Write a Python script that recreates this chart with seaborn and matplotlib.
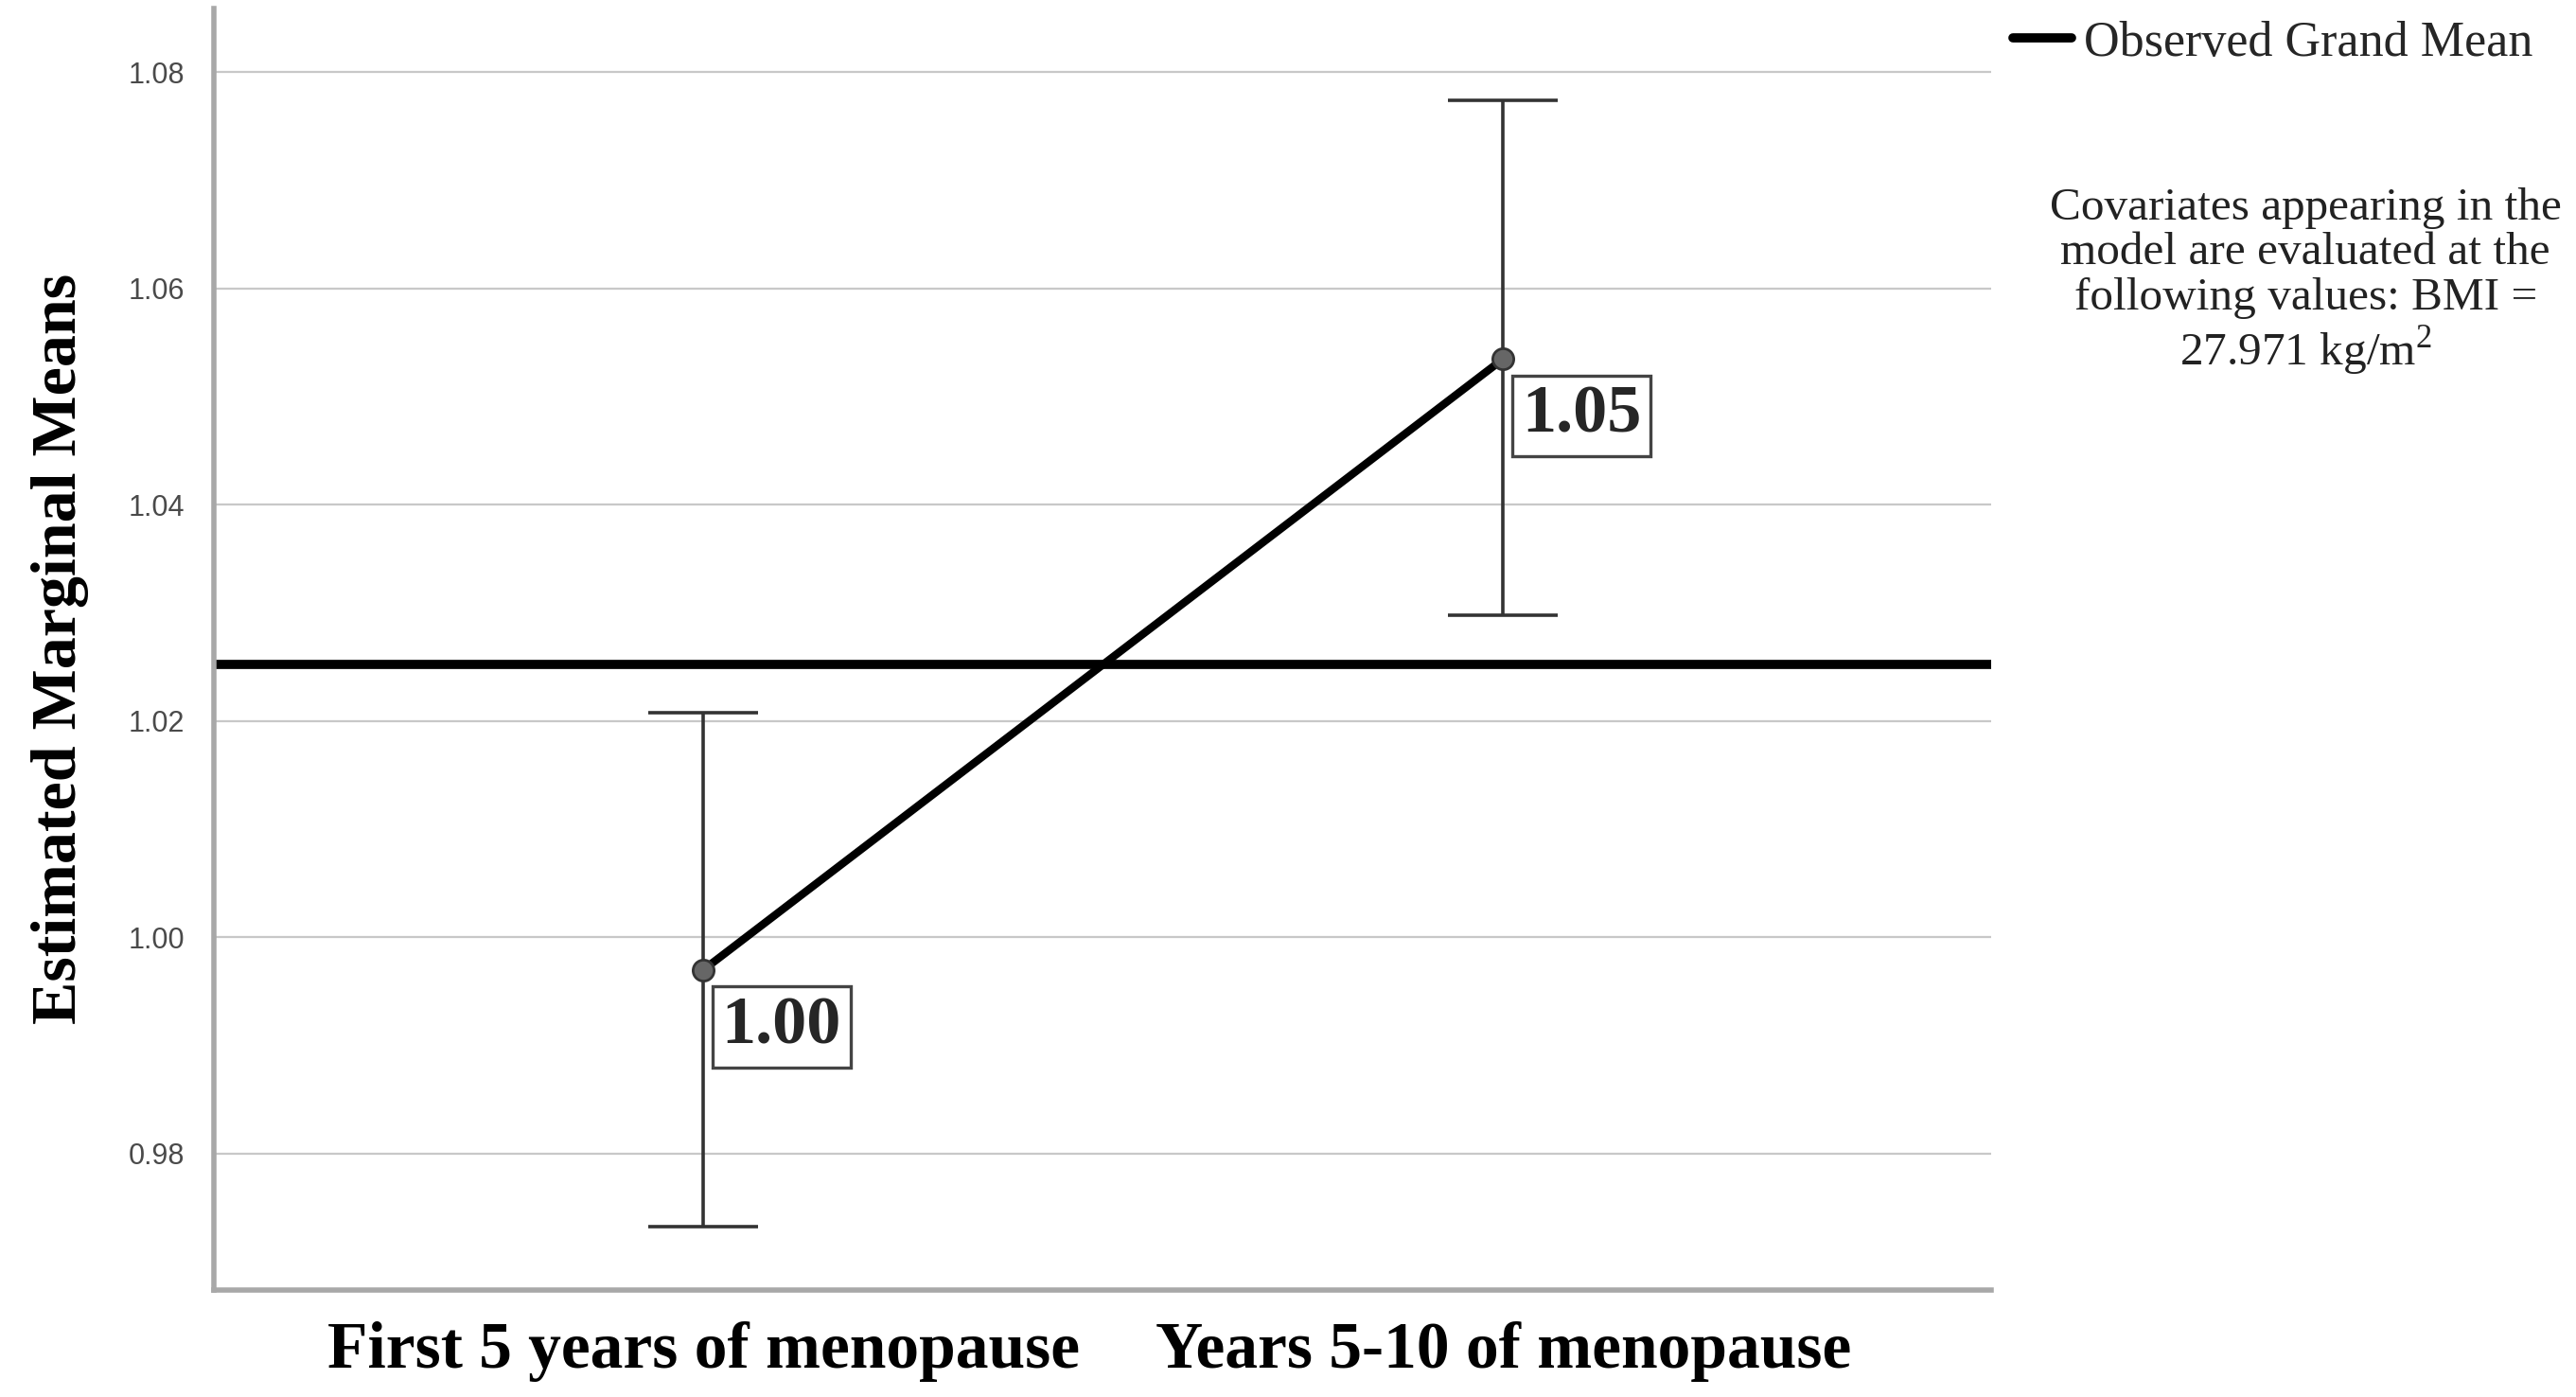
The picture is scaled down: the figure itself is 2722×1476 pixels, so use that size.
import matplotlib
matplotlib.use("Agg")
import matplotlib.pyplot as plt
import seaborn as sns
import pandas as pd

# ---- data ----
periods = ["First 5 years of menopause", "Years 5-10 of menopause"]
means = [0.997, 1.0535]
ci_low = [0.9733, 1.0298]
ci_high = [1.0208, 1.0774]
point_labels = ["1.00", "1.05"]
grand_mean = 1.0252
y_ticks = [0.98, 1.00, 1.02, 1.04, 1.06, 1.08]
y_label = "Estimated Marginal Means"
legend_label = "Observed Grand Mean"
note_text = ("Covariates appearing in the\nmodel are evaluated at the\n"
             "following values: BMI =\n27.971 kg/m$^{2}$")

sns.set_theme(style="white")
serif = ["Liberation Serif", "DejaVu Serif"]
sans = ["Liberation Sans", "DejaVu Sans"]
plt.rcParams["font.family"] = serif
plt.rcParams["mathtext.fontset"] = "custom"
plt.rcParams["mathtext.rm"] = "Liberation Serif"

df = pd.DataFrame({"period": periods, "mean": means})

fig = plt.figure(figsize=(27.22, 14.76), dpi=100)
ax = fig.add_axes([0.083, 0.0766, 0.690, 0.9174])

# grid
for t in y_ticks:
    ax.axhline(t, color="#c8c8c8", lw=1.6, zorder=0)

# grand mean
ax.axhline(grand_mean, color="black", lw=7, zorder=2, label=legend_label)

# error bars
yerr = [[m - lo for m, lo in zip(means, ci_low)], [hi - m for m, hi in zip(means, ci_high)]]
ax.errorbar(periods, means, yerr=yerr, fmt="none", ecolor="#333333",
            elinewidth=2.6, capsize=42, capthick=2.6, zorder=3)

# mean line and points
sns.lineplot(data=df, x="period", y="mean", ax=ax, color="black", lw=6,
             marker="o", markersize=16, markerfacecolor="#666666",
             markeredgecolor="#333333", markeredgewidth=2, zorder=4,
             legend=False)

# value labels
for p, m, lab in zip(periods, means, point_labels):
    ax.annotate(lab, xy=(p, m), xytext=(14, -20), textcoords="offset points",
                ha="left", va="top", fontsize=52, fontweight="bold",
                family=serif, zorder=5,
                bbox=dict(boxstyle="square,pad=0.14", fc="white",
                          ec="#444444", lw=2.4))

ax.set_xlim(-0.612, 1.61)
ax.set_ylim(0.9674, 1.0859)
ax.set_yticks(y_ticks)
ax.set_yticklabels([f"{t:.2f}" for t in y_ticks], family=sans,
                   fontsize=22, color="#4a4a4a")
ax.tick_params(axis="y", length=0, pad=22)
ax.tick_params(axis="x", length=0, pad=24)
for lab in ax.get_xticklabels():
    lab.set_family(serif)
    lab.set_fontweight("bold")
    lab.set_fontsize(50)
    lab.set_color("black")

ax.set_xlabel("")
ax.set_ylabel(y_label, family=serif, fontweight="bold", fontsize=49,
              labelpad=30, color="black")

for s in ["top", "right"]:
    ax.spines[s].set_visible(False)
for s in ["left", "bottom"]:
    ax.spines[s].set_color("#a8a8a8")
    ax.spines[s].set_linewidth(4)

# legend outside at top right
leg = ax.legend(loc="upper left", bbox_to_anchor=(1.001, 1.006), frameon=False,
                handlelength=1.2, handletextpad=0.25, borderaxespad=0,
                prop={"family": serif, "size": 37.5})

fig.text(0.895, 0.866, note_text, ha="center", va="top", fontsize=35.5,
         family=serif, color="#222222", linespacing=1.1)

fig.savefig("out.png", dpi=100)
